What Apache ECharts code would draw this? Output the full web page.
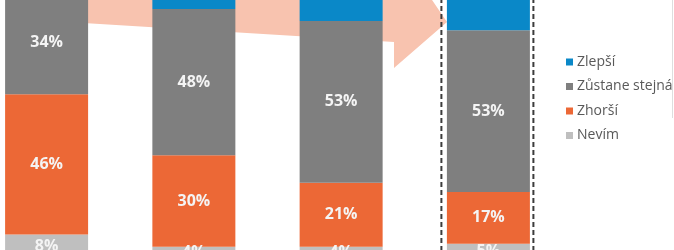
<!DOCTYPE html>
<html>
<head>
<meta charset="utf-8">
<script src="https://cdn.jsdelivr.net/npm/echarts@6/dist/echarts.min.js"></script>
<style>
  html, body { margin: 0; padding: 0; background: #fff; }
  #chart { width: 674px; height: 250px; }
</style>
</head>
<body>
<div id="chart"></div>
<script>
// kategorie (popisky osy jsou mimo výřez)
const categories = ['1', '2', '3', '4']

const zlepsi = [12, 18, 22, 25]
const zustane = [34, 48, 53, 53]
const zhorsi = [46, 30, 21, 17]
const nevim = [8, 4, 4, 5]

const legendNames = ['Zlepší', 'Zůstane stejná', 'Zhorší', 'Nevím']

const chart = echarts.init(document.getElementById('chart'))

const labelStyle = {
  show: true,
  position: 'inside',
  color: '#f4f4f4',
  fontFamily: 'Open Sans',
  fontWeight: 'bold',
  fontSize: 16,
  formatter: p => p.value + '%'
}

const mkSeries = (name, data, color) => ({
  name,
  type: 'bar',
  stack: 'total',
  data,
  barWidth: 83,
  clip: false,
  itemStyle: { color },
  label: labelStyle,
  emphasis: { disabled: true }
})

chart.setOption({
  animation: false,
  grid: { left: 46.6, right: 185.6, top: 0, bottom: 0 },
  xAxis: {
    type: 'category',
    data: categories,
    boundaryGap: false,
    show: false
  },
  // výřez ukazuje jen část osy (spodek i vršek sloupců jsou oříznuté)
  yAxis: {
    type: 'value',
    min: 2.95,
    max: 84.92,
    show: false
  },
  legend: {
    data: legendNames,
    orient: 'vertical',
    left: 566,
    top: 54,
    padding: 0,
    icon: 'rect',
    itemWidth: 7,
    itemHeight: 7,
    itemGap: 8.5,
    textStyle: {
      color: '#595959',
      fontFamily: 'Open Sans',
      fontSize: 14,
      lineHeight: 16,
      padding: [0, 0, 0, -1]
    }
  },
  graphic: [
    {
      // šipka v pozadí
      id: 'arrow',
      type: 'polygon',
      z: -1,
      shape: {
        points: [[447, 22], [394, -56], [394, -40], [18, -60], [18, 19], [394, 42], [394, 68]]
      },
      style: { fill: '#f8c3af' },
      silent: true
    },
    {
      id: 'border',
      type: 'line',
      shape: { x1: 672.5, y1: 0, x2: 672.5, y2: 118 },
      style: { stroke: '#dedede', lineWidth: 1 },
      silent: true
    }
  ],
  series: [
    mkSeries('Nevím', nevim, '#bfbfbf'),
    mkSeries('Zhorší', zhorsi, '#ec6836'),
    mkSeries('Zůstane stejná', zustane, '#7f7f7f'),
    mkSeries('Zlepší', zlepsi, '#0a88c8')
  ]
})

// přerušovaný rámeček kolem posledního sloupce
const cx = chart.convertToPixel({ gridIndex: 0 }, [categories[3], 0])[0]
const dash = { stroke: '#3c3c3c', lineWidth: 2, lineDash: [5, 3] }
chart.setOption({
  graphic: [
    { id: 'dl', type: 'line', shape: { x1: cx - 47, y1: -10, x2: cx - 47, y2: 260 }, style: dash, silent: true },
    { id: 'dr', type: 'line', shape: { x1: cx + 45, y1: -10, x2: cx + 45, y2: 260 }, style: dash, silent: true }
  ]
})
</script>
</body>
</html>
